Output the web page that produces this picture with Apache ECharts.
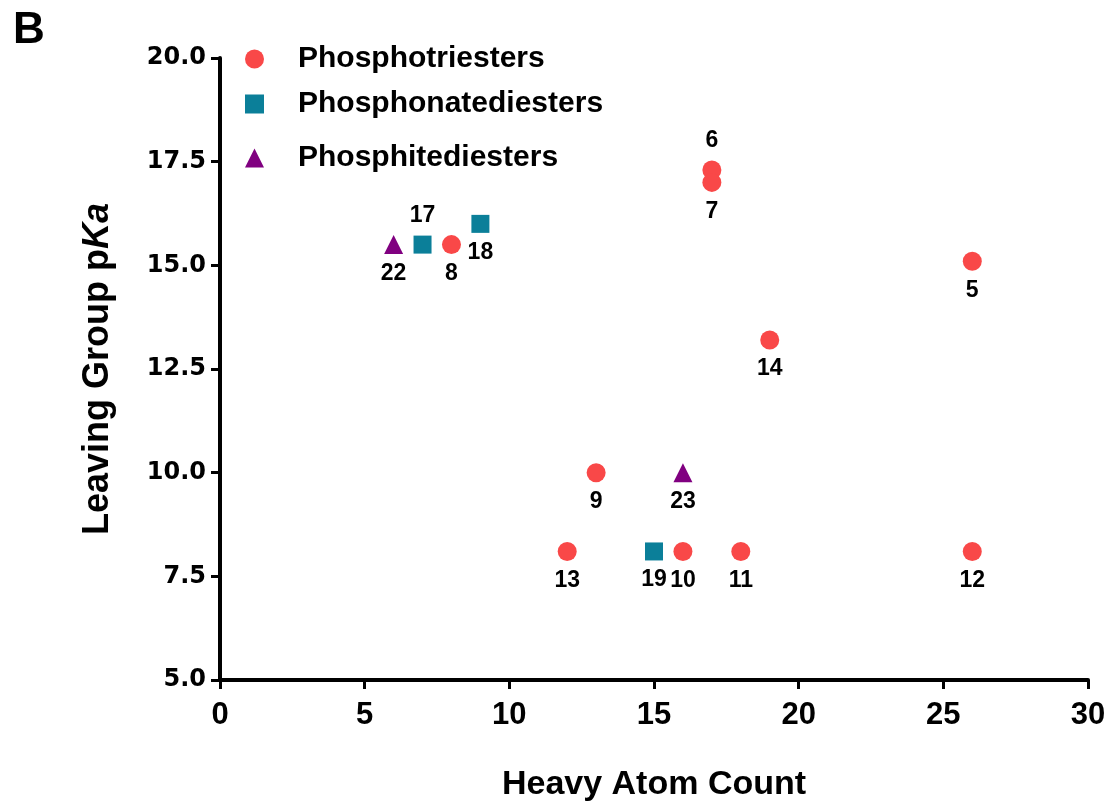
<!DOCTYPE html>
<html>
<head>
<meta charset="utf-8">
<script src="https://cdn.jsdelivr.net/npm/echarts@6/dist/echarts.min.js"></script>
<style>html,body{margin:0;padding:0;background:#fff}#c{width:1112px;height:807px}</style>
</head>
<body>
<div id="c"></div>
<script>
// Data: [heavy atom count, leaving group pKa, compound label]
const triesters = [[17,17.3,'6'],[17,17.0,'7'],[8,15.5,'8'],[26,15.1,'5'],[19,13.2,'14'],[13,10.0,'9'],[12,8.1,'13'],[16,8.1,'10'],[18,8.1,'11'],[26,8.1,'12']];
const phosphonates = [[7,15.5,'17'],[9,16.0,'18'],[15,8.1,'19']];
const phosphites = [[6,15.5,'22'],[16,10.0,'23']];
const labelsAbove = ['6','17'];
const xTicks = [0,5,10,15,20,25,30];
const yTicks = [5,7.5,10,12.5,15,17.5,20];

const FONT = 'Liberation Sans, Arial, sans-serif';
const WIDE = '"DejaVu Sans", sans-serif';
function mk(name, data, symbol, size, color){
  return {
    name, type:'scatter', symbol, symbolSize:size,
    itemStyle:{color, opacity:1},
    emphasis:{disabled:true},
    data: data.map(d => ({
      value:[d[0], d[1]],
      label:{show:true, formatter:d[2], position: labelsAbove.includes(d[2]) ? 'top' : 'bottom', distance:8,
        fontFamily:FONT, fontWeight:'bold', fontSize:23, color:'#000'}
    }))
  };
}
const legendBase = {orient:'vertical', left:240, itemWidth:19, itemHeight:19, itemGap:20,
  textStyle:{fontFamily:FONT, fontWeight:'bold', fontSize:30, color:'#000', padding:[0,0,0,29]}};
const chart = echarts.init(document.getElementById('c'), null, {renderer:'canvas'});
chart.setOption({
  animation:false,
  title:{text:'B', left:8, top:4, textStyle:{fontFamily:FONT, fontWeight:'bold', fontSize:44, color:'#000'}},
  legend:[
    Object.assign({}, legendBase, {top:39, data:['Phosphotriesters']}),
    Object.assign({}, legendBase, {top:84, data:['Phosphonatediesters']}),
    Object.assign({}, legendBase, {top:138, data:['Phosphitediesters']})
  ],
  grid:{left:220, right:24, top:58, bottom:127},
  xAxis:{type:'value', min:0, max:30, interval:5,
    name:'Heavy Atom Count', nameLocation:'middle', nameGap:88,
    nameTextStyle:{fontFamily:FONT, fontWeight:'bold', fontSize:34, color:'#000'},
    axisLine:{show:true, lineStyle:{color:'#000', width:4}},
    axisTick:{show:true, length:9, lineStyle:{color:'#000', width:3}},
    axisLabel:{fontFamily:FONT, fontWeight:'bold', fontSize:31, color:'#000', margin:20,
      formatter: v => xTicks.includes(v) ? String(v) : ''},
    splitLine:{show:false}},
  yAxis:{type:'value', min:5, max:20, interval:2.5,
    name:'{n|Leaving Group p}{i|Ka}', nameLocation:'middle', nameGap:104, nameRotate:90,
    nameTextStyle:{rich:{
      n:{fontFamily:FONT, fontWeight:'bold', fontSize:36, color:'#000'},
      i:{fontFamily:FONT, fontWeight:'bold', fontStyle:'italic', fontSize:36, color:'#000'}}},
    axisLine:{show:true, lineStyle:{color:'#000', width:4}},
    axisTick:{show:true, length:9, lineStyle:{color:'#000', width:3}},
    axisLabel:{fontFamily:WIDE, fontWeight:'bold', fontSize:24, color:'#000', margin:14,
      formatter: v => yTicks.includes(v) ? v.toFixed(1) : ''},
    splitLine:{show:false}},
  series:[
    mk('Phosphotriesters', triesters, 'circle', 19, '#F94848'),
    mk('Phosphonatediesters', phosphonates, 'rect', 18, '#0B7F99'),
    mk('Phosphitediesters', phosphites, 'triangle', 19, '#800080')
  ]
});
</script>
</body>
</html>
